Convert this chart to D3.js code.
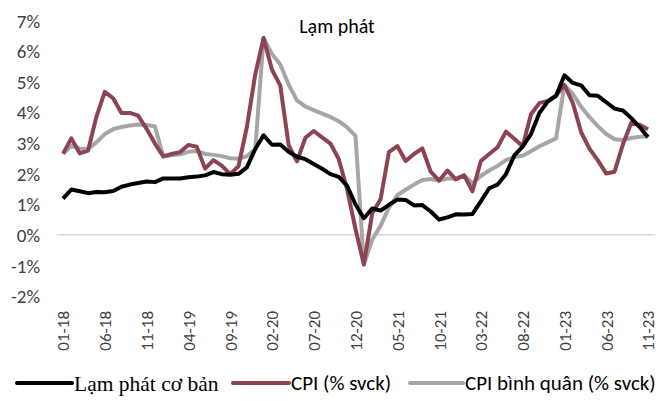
<!DOCTYPE html>
<html>
<head>
<meta charset="utf-8">
<script src="https://d3js.org/d3.v7.min.js"></script>
<style>
  body { margin: 0; background: #fff; }
  text { font-family: Carlito, Lato, "Open Sans", sans-serif; }
</style>
</head>
<body>
<svg id="chart" width="659" height="401"></svg>
<script>
// month labels shown on the x axis (every 5 months)
var tickLabels = ["01-18","06-18","11-18","04-19","09-19","02-20","07-20","12-20",
                  "05-21","10-21","03-22","08-22","01-23","06-23","11-23"]

// Lạm phát cơ bản (core inflation), 01-18 .. 11-23
var coreInfl = [1.18,1.48,1.42,1.36,1.40,1.39,1.43,1.57,1.64,1.69,1.74,1.72,
                1.84,1.84,1.84,1.88,1.90,1.94,2.05,1.98,1.96,1.99,2.20,2.80,
                3.25,2.94,2.95,2.71,2.55,2.47,2.31,2.16,1.98,1.89,1.60,0.99,
                0.54,0.86,0.79,0.98,1.15,1.14,0.96,0.97,0.76,0.50,0.57,0.67,
                0.66,0.68,1.09,1.52,1.64,1.98,2.59,2.88,3.29,3.98,4.35,4.54,
                5.21,4.96,4.88,4.56,4.54,4.33,4.12,4.06,3.81,3.52,3.19]

// CPI (% svck)
var cpi = [2.65,3.15,2.66,2.75,3.86,4.67,4.46,3.98,3.98,3.89,3.46,2.98,
           2.56,2.64,2.70,2.93,2.88,2.16,2.44,2.26,1.98,2.24,3.52,5.23,
           6.43,5.40,4.87,2.93,2.40,3.17,3.39,3.18,2.98,2.47,1.48,0.19,
          -0.97,0.70,1.16,2.70,2.90,2.41,2.64,2.82,2.06,1.77,2.10,1.81,
           1.94,1.42,2.41,2.64,2.86,3.37,3.14,2.89,3.94,4.30,4.37,4.55,
           4.89,4.31,3.35,2.81,2.43,2.00,2.06,2.96,3.66,3.59,3.45]

// CPI bình quân (% svck)
var cpiAvg = [2.65,2.90,2.82,2.80,3.02,3.29,3.45,3.52,3.57,3.60,3.59,3.54,
              2.56,2.60,2.63,2.71,2.74,2.64,2.61,2.57,2.50,2.48,2.57,2.79,
              6.43,5.91,5.56,4.90,4.39,4.19,4.07,3.96,3.85,3.71,3.51,3.23,
             -0.97,-0.16,0.29,0.89,1.29,1.47,1.64,1.79,1.82,1.77,1.84,1.84,
              1.94,1.68,1.92,2.10,2.25,2.44,2.54,2.58,2.73,2.89,3.02,3.15,
              4.89,4.60,4.18,3.84,3.55,3.29,3.12,3.10,3.16,3.20,3.22]

var svg = d3.select("#chart")

// month keys "MM-YY" for every point
var months = []
for (var yr = 18; yr <= 23; yr++) {
    for (var m = 1; m <= 12; m++) {
        if (yr == 23 && m > 11) break
        months.push((m < 10 ? "0" + m : "" + m) + "-" + yr)
    }
}

var x = d3.scalePoint()
    .domain(months)
    .range([63, 648])

var y = d3.scaleLinear()
    .domain([-2, 7])
    .range([296, 20.5])

// zero line
svg.append("line")
    .attr("x1", 57).attr("x2", 655)
    .attr("y1", y(0)).attr("y2", y(0))
    .attr("stroke", "#d9d9d9")
    .attr("stroke-width", 1.5)

// y axis
var yAxis = svg.append("g")
    .attr("transform", "translate(40,0)")
    .call(d3.axisLeft(y).tickValues(d3.range(-2, 8)).tickSize(0).tickPadding(0)
        .tickFormat(function(d) { return d + "%" }))
yAxis.select(".domain").remove()
yAxis.selectAll("text")
    .attr("font-size", 19)
    .attr("fill", "#404040")
    .attr("dy", "0.35em")

// x axis, labels rotated
var xAxis = svg.append("g")
    .attr("transform", "translate(0,311)")
    .call(d3.axisBottom(x).tickValues(tickLabels).tickSize(0).tickPadding(0))
xAxis.select(".domain").remove()
xAxis.selectAll("text")
    .attr("font-size", 17)
    .attr("fill", "#404040")
    .attr("transform", "rotate(-90)")
    .attr("text-anchor", "end")
    .attr("x", 0)
    .attr("y", 0)
    .attr("dy", "0.35em")

var line = d3.line()
    .x(function(d, i) { return x(months[i]) })
    .y(function(d) { return y(d) })

var series = [
    {name: "Lạm phát cơ bản", values: coreInfl, color: "#000000"},
    {name: "CPI (% svck)", values: cpi, color: "#8c4352"},
    {name: "CPI bình quân (% svck)", values: cpiAvg, color: "#a6a6a6"}
]

// draw gray first, then maroon, black on top
svg.selectAll(".series")
    .data([series[2], series[1], series[0]])
    .enter()
    .append("path")
    .attr("class", "series")
    .attr("fill", "none")
    .attr("stroke", function(d) { return d.color })
    .attr("stroke-width", 4)
    .attr("stroke-linejoin", "round")
    .attr("d", function(d) { return line(d.values) })

// title
svg.append("text")
    .attr("x", 337)
    .attr("y", 33)
    .attr("text-anchor", "middle")
    .attr("font-size", 20)
    .attr("fill", "#000")
    .text("Lạm phát")

// legend
var legendPos = [
    {x1: 17, x2: 72},
    {x1: 233, x2: 289},
    {x1: 410, x2: 463}
]
var legend = svg.selectAll(".legend")
    .data(series)
    .enter()
    .append("g")
    .attr("class", "legend")
legend.append("line")
    .attr("x1", function(d, i) { return legendPos[i].x1 })
    .attr("x2", function(d, i) { return legendPos[i].x2 })
    .attr("y1", 383).attr("y2", 383)
    .attr("stroke", function(d) { return d.color })
    .attr("stroke-width", 4)
    .attr("stroke-linecap", "round")
legend.append("text")
    .attr("x", function(d, i) { return legendPos[i].x2 + 2 })
    .attr("y", 383)
    .attr("dy", "0.35em")
    .attr("font-size", function(d, i) { return i == 0 ? 21.5 : 21 })
    .attr("fill", "#000")
    .style("font-family", function(d, i) { return i == 0 ? "'Liberation Serif', serif" : null })
    .text(function(d) { return d.name })
</script>
</body>
</html>
